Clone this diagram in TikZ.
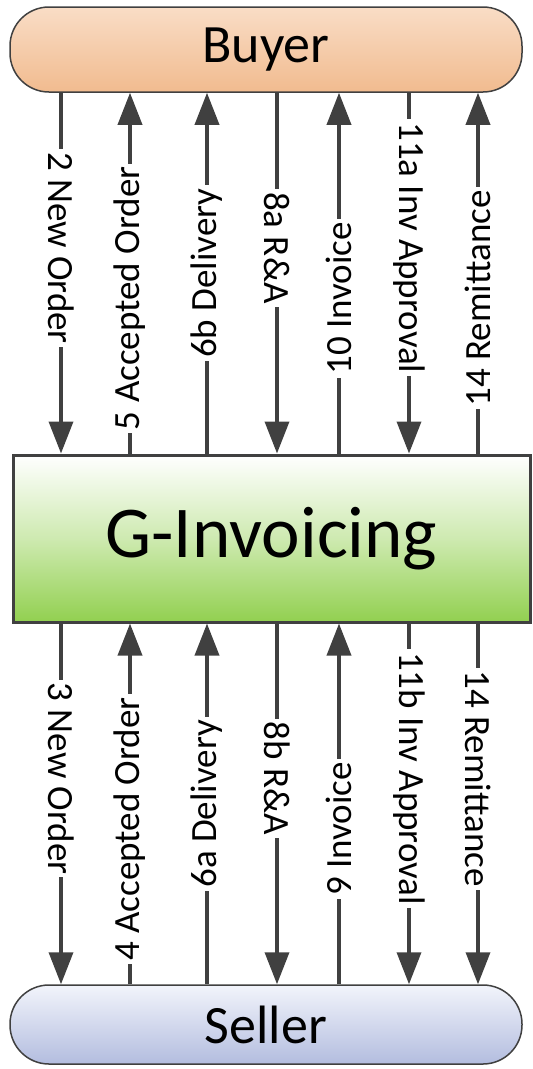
\documentclass[tikz,border=0pt]{standalone}
\usepackage{fontspec}
\setmainfont{Carlito}
\usetikzlibrary{arrows.meta}
\definecolor{edge}{HTML}{404040}
\definecolor{buyerTop}{HTML}{F9DDC6}
\definecolor{buyerBot}{HTML}{F1BB8F}
\definecolor{giGreen}{HTML}{92D050}
\definecolor{sellerTop}{HTML}{F2F4FB}
\definecolor{sellerBot}{HTML}{B3BDDF}
\tikzset{
  party/.style={draw=edge, line width=1.5pt, rounded corners=39pt, minimum width=512pt,
    font=\fontsize{54}{60}\selectfont},
  arr/.style={draw=edge, line width=3.6pt, -{Triangle[length=32pt,width=24pt]}},
  lbl/.style={fill=white, inner xsep=3pt, inner ysep=1pt, font=\fontsize{37}{42}\selectfont, pos=.43},
}
\begin{document}
\begin{tikzpicture}[x=1pt,y=-1pt]
\useasboundingbox (0,0) rectangle (533,1069);
\node[party, minimum height=85pt, top color=buyerTop, bottom color=buyerBot] (buyer) at (266,49.5) {Buyer};
\node[draw=edge, line width=3pt, minimum width=517pt, minimum height=167pt, top color=white, bottom color=giGreen,
  middle color=giGreen!45, font=\fontsize{73}{80}\selectfont] (gi) at (271.5,538.5) {G-Invoicing};
\node[party, minimum height=79pt, top color=sellerTop, bottom color=sellerBot] (seller) at (266,1024.5) {Seller};
\coordinate (c1) at (61,0);
\coordinate (c2) at (130,0);
\coordinate (c3) at (207,0);
\coordinate (c4) at (277,0);
\coordinate (c5) at (339,0);
\coordinate (c6) at (409,0);
\coordinate (c7) at (478,0);
% top section
\draw[arr] (buyer.south -| c1) -- node[lbl, rotate=-90] {2 New Order} (gi.north -| c1);
\draw[arr] (gi.north -| c2) -- node[lbl, rotate=90] {5 Accepted Order} (buyer.south -| c2);
\draw[arr] (gi.north -| c3) -- node[lbl, rotate=90, pos=.5] {6b Delivery} (buyer.south -| c3);
\draw[arr] (buyer.south -| c4) -- node[lbl, rotate=-90] {8a R\&A} (gi.north -| c4);
\draw[arr] (gi.north -| c5) -- node[lbl, rotate=90] {10 Invoice} (buyer.south -| c5);
\draw[arr] (buyer.south -| c6) -- node[lbl, rotate=-90] {11a Inv Approval} (gi.north -| c6);
\draw[arr] (gi.north -| c7) -- node[lbl, rotate=90] {14 Remittance} (buyer.south -| c7);
% bottom section
\draw[arr] (gi.south -| c1) -- node[lbl, rotate=-90] {3 New Order} (seller.north -| c1);
\draw[arr] (seller.north -| c2) -- node[lbl, rotate=90] {4 Accepted Order} (gi.south -| c2);
\draw[arr] (seller.north -| c3) -- node[lbl, rotate=90, pos=.5] {6a Delivery} (gi.south -| c3);
\draw[arr] (gi.south -| c4) -- node[lbl, rotate=-90] {8b R\&A} (seller.north -| c4);
\draw[arr] (seller.north -| c5) -- node[lbl, rotate=90] {9 Invoice} (gi.south -| c5);
\draw[arr] (gi.south -| c6) -- node[lbl, rotate=-90] {11b Inv Approval} (seller.north -| c6);
\draw[arr] (gi.south -| c7) -- node[lbl, rotate=-90] {14 Remittance} (seller.north -| c7);
\end{tikzpicture}
\end{document}
